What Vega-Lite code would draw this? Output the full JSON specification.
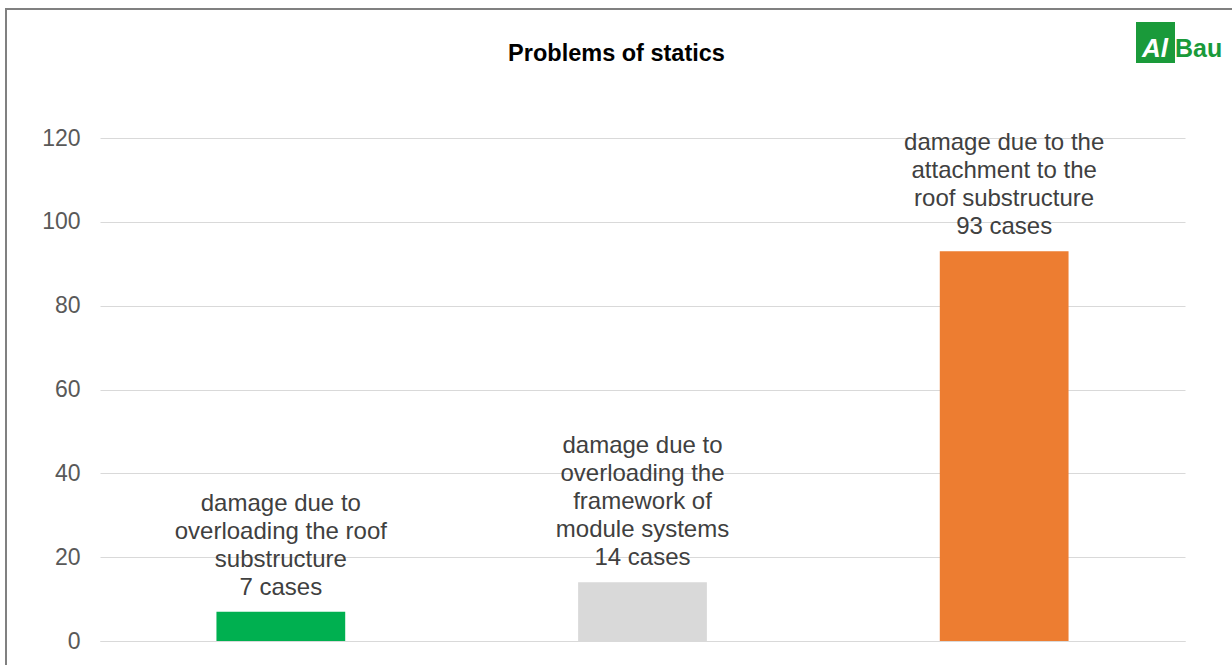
{
  "$schema": "https://vega.github.io/schema/vega-lite/v6.json",
  "width": 1085,
  "height": 503,
  "autosize": "none",
  "padding": {"left": 100, "top": 138, "right": 47, "bottom": 24},
  "background": "white",
  "config": {
    "font": "Liberation Sans",
    "view": {"stroke": null}
  },
  "title": {
    "text": "Problems of statics",
    "fontSize": 23.5,
    "fontWeight": "bold",
    "color": "#000000",
    "font": "Liberation Sans",
    "anchor": "middle",
    "frame": "group",
    "offset": -57,
    "dx": -26
  },
  "data": {
    "values": [
      {"category": "overloading the roof substructure", "cases": 7, "label": "damage due to\noverloading the roof\nsubstructure\n7 cases"},
      {"category": "overloading the framework of module systems", "cases": 14, "label": "damage due to\noverloading the\nframework of\nmodule systems\n14 cases"},
      {"category": "attachment to the roof substructure", "cases": 93, "label": "damage due to the\nattachment to the\nroof substructure\n93 cases"}
    ]
  },
  "encoding": {
    "x": {
      "field": "category",
      "type": "nominal",
      "sort": null,
      "scale": {"paddingInner": 0.644, "paddingOuter": 0.322},
      "axis": {"title": null, "labels": false, "ticks": false, "domain": true, "domainColor": "#d9d9d9", "domainWidth": 1}
    },
    "y": {
      "field": "cases",
      "type": "quantitative",
      "scale": {"domain": [0, 120], "nice": false},
      "axis": {
        "title": null,
        "values": [0, 20, 40, 60, 80, 100, 120],
        "domain": false,
        "ticks": false,
        "labelPadding": 20,
        "labelFontSize": 23,
        "labelColor": "#595959",
        "labelFont": "Liberation Sans",
        "gridColor": "#d9d9d9",
        "gridWidth": 1
      }
    }
  },
  "layer": [
    {
      "mark": {"type": "bar"},
      "encoding": {
        "color": {
          "field": "category",
          "type": "nominal",
          "sort": null,
          "scale": {"range": ["#00b050", "#d9d9d9", "#ed7d31"]},
          "legend": null
        }
      }
    },
    {
      "transform": [{"filter": "datum.category != 'overloading the framework of module systems'"}],
      "mark": {"type": "text", "baseline": "alphabetic", "align": "center", "dy": -101, "fontSize": 24, "lineHeight": 28, "lineBreak": "\n", "color": "#404040", "font": "Liberation Sans"},
      "encoding": {
        "text": {"field": "label", "type": "nominal"}
      }
    },
    {
      "transform": [{"filter": "datum.category == 'overloading the framework of module systems'"}],
      "mark": {"type": "text", "baseline": "alphabetic", "align": "center", "dy": -129, "fontSize": 24, "lineHeight": 28, "lineBreak": "\n", "color": "#404040", "font": "Liberation Sans"},
      "encoding": {
        "text": {"field": "label", "type": "nominal"}
      }
    },
    {
      "data": {"values": [{"logo": "A"}]},
      "mark": {"type": "rect", "color": "#1a9a3a"},
      "encoding": {
        "x": {"value": 1036},
        "x2": {"value": 1075},
        "y": {"value": -116},
        "y2": {"value": -75}
      }
    },
    {
      "data": {"values": [{"logo": "Al"}]},
      "mark": {"type": "text", "text": "Al", "color": "white", "fontSize": 26, "fontWeight": "bold", "fontStyle": "italic", "align": "left", "baseline": "alphabetic", "font": "Liberation Sans"},
      "encoding": {
        "x": {"value": 1042},
        "y": {"value": -81}
      }
    },
    {
      "data": {"values": [{"logo": "Bau"}]},
      "mark": {"type": "text", "text": "Bau", "color": "#1a9a3a", "fontSize": 25, "fontWeight": "bold", "align": "left", "baseline": "alphabetic", "font": "Liberation Sans"},
      "encoding": {
        "x": {"value": 1075},
        "y": {"value": -81}
      }
    },
    {
      "data": {"values": [{"frame": "left"}]},
      "mark": {"type": "rule", "color": "#808080", "strokeWidth": 2},
      "encoding": {
        "x": {"value": -94},
        "x2": {"value": -94},
        "y": {"value": -129},
        "y2": {"value": 540}
      }
    },
    {
      "data": {"values": [{"frame": "top"}]},
      "mark": {"type": "rule", "color": "#808080", "strokeWidth": 2},
      "encoding": {
        "x": {"value": -95},
        "x2": {"value": 1150},
        "y": {"value": -129},
        "y2": {"value": -129}
      }
    }
  ]
}
